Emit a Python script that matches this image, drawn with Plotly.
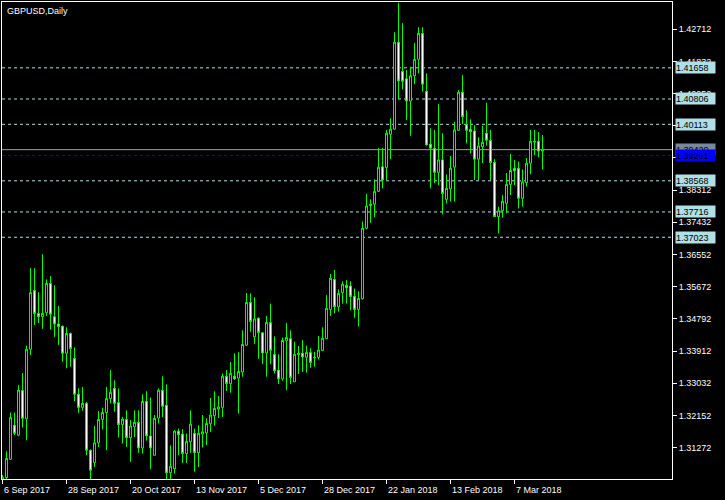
import plotly.graph_objects as go

# ---- data ----
opens = [1.3035,1.3045,1.3095,1.3188,1.3161,1.3283,1.3206,1.3396,1.3557,1.3494,
         1.3485,1.3496,1.3576,1.3485,1.3465,1.3459,1.3385,1.3439,1.3371,1.3273,
         1.3237,1.3248,1.3120,1.3086,1.3140,1.3204,1.3223,1.3261,1.3289,1.3250,
         1.3190,1.3204,1.3154,1.3184,1.3196,1.3126,1.3253,1.3159,1.3106,1.3208,
         1.3284,1.3243,1.3058,1.3069,1.3172,1.3164,1.3111,1.3143,1.3166,1.3113,
         1.3164,1.3167,1.3193,1.3214,1.3232,1.3237,1.3322,1.3302,1.3322,1.3317,
         1.3334,1.3407,1.3524,1.3430,1.3481,1.3441,1.3386,1.3469,1.3382,1.3339,
         1.3315,1.3419,1.3425,1.3307,1.3381,1.3385,1.3374,1.3387,1.3374,1.3374,
         1.3393,1.3425,1.3505,1.3587,1.3512,1.3551,1.3571,1.3569,1.3541,1.3505,
         1.3534,1.3727,1.3789,1.3793,1.3828,1.3895,1.3893,1.3984,1.3998,1.4236,
         1.4156,1.4136,1.4075,1.4144,1.4189,1.4260,1.4102,1.3957,1.3946,1.3880,
         1.3914,1.3806,1.3835,1.3894,1.3995,1.4099,1.4011,1.3997,1.3993,1.3916,
         1.3950,1.3987,1.3967,1.3907,1.3759,1.3775,1.3795,1.3847,1.3891,1.3891,
         1.3809,1.3852,1.3905,1.3965,1.3965,1.3938]
highs = [1.3052,1.3117,1.3223,1.3223,1.3298,1.3331,1.3406,1.3618,1.3618,1.3552,
         1.3656,1.3587,1.3596,1.3571,1.3514,1.3461,1.3456,1.3442,1.3401,1.3289,
         1.3293,1.3252,1.3122,1.3186,1.3227,1.3236,1.3293,1.3339,1.3311,1.3289,
         1.3211,1.3229,1.3202,1.3229,1.3229,1.3273,1.3281,1.3264,1.3216,1.3289,
         1.3322,1.3300,1.3133,1.3175,1.3179,1.3177,1.3166,1.3229,1.3179,1.3188,
         1.3216,1.3207,1.3263,1.3281,1.3268,1.3330,1.3339,1.3361,1.3385,1.3388,
         1.3448,1.3550,1.3549,1.3538,1.3483,1.3443,1.3487,1.3521,1.3431,1.3382,
         1.3428,1.3468,1.3448,1.3417,1.3405,1.3421,1.3406,1.3399,1.3389,1.3432,
         1.3456,1.3544,1.3602,1.3613,1.3560,1.3582,1.3585,1.3582,1.3562,1.3555,
         1.3745,1.3821,1.3806,1.3861,1.3946,1.3947,1.3996,1.4028,1.4263,1.4344,
         1.4288,1.4160,1.4169,1.4234,1.4277,1.4277,1.4151,1.4000,1.3996,1.4067,
         1.3987,1.3874,1.3925,1.4018,1.4105,1.4146,1.4050,1.4025,1.4009,1.3976,
         1.4007,1.4070,1.3996,1.3916,1.3786,1.3818,1.3878,1.3930,1.3914,1.3910,
         1.3888,1.3919,1.3996,1.3996,1.3990,1.3982]
lows = [1.3020,1.3040,1.3093,1.3161,1.3158,1.3182,1.3147,1.3380,1.3462,1.3468,
        1.3452,1.3487,1.3450,1.3430,1.3408,1.3362,1.3344,1.3348,1.3254,1.3222,
        1.3228,1.3106,1.3041,1.3074,1.3129,1.3177,1.3120,1.3248,1.3225,1.3155,
        1.3138,1.3129,1.3088,1.3156,1.3113,1.3111,1.3146,1.3068,1.3106,1.3193,
        1.3211,1.3036,1.3040,1.3056,1.3106,1.3085,1.3085,1.3113,1.3061,1.3074,
        1.3127,1.3134,1.3170,1.3187,1.3208,1.3211,1.3282,1.3277,1.3312,1.3220,
        1.3321,1.3405,1.3444,1.3410,1.3370,1.3356,1.3321,1.3355,1.3330,1.3301,
        1.3310,1.3284,1.3301,1.3307,1.3328,1.3334,1.3332,1.3345,1.3348,1.3368,
        1.3391,1.3424,1.3487,1.3494,1.3499,1.3521,1.3521,1.3503,1.3482,1.3458,
        1.3532,1.3724,1.3742,1.3757,1.3826,1.3836,1.3859,1.3916,1.3997,1.4080,
        1.4107,1.4023,1.3980,1.4121,1.4151,1.4101,1.3953,1.3836,1.3850,1.3845,
        1.3765,1.3795,1.3800,1.3800,1.3994,1.4012,1.3959,1.3932,1.3859,1.3859,
        1.3905,1.3953,1.3859,1.3758,1.3713,1.3756,1.3768,1.3818,1.3845,1.3781,
        1.3786,1.3841,1.3875,1.3927,1.3921,1.3888]
closes = [1.3046,1.3097,1.3209,1.3166,1.3284,1.3207,1.3396,1.3551,1.3494,1.3485,
          1.3494,1.3576,1.3492,1.3465,1.3458,1.3385,1.3439,1.3398,1.3273,1.3237,
          1.3248,1.3120,1.3065,1.3140,1.3204,1.3223,1.3261,1.3278,1.3248,1.3190,
          1.3205,1.3154,1.3186,1.3196,1.3126,1.3253,1.3159,1.3126,1.3207,1.3284,
          1.3240,1.3058,1.3076,1.3172,1.3162,1.3111,1.3144,1.3191,1.3113,1.3166,
          1.3170,1.3193,1.3216,1.3234,1.3238,1.3322,1.3302,1.3330,1.3315,1.3335,
          1.3409,1.3524,1.3472,1.3479,1.3442,1.3386,1.3469,1.3393,1.3337,1.3315,
          1.3420,1.3428,1.3319,1.3382,1.3385,1.3375,1.3387,1.3360,1.3373,1.3394,
          1.3426,1.3508,1.3590,1.3512,1.3549,1.3574,1.3564,1.3540,1.3505,1.3535,
          1.3727,1.3788,1.3793,1.3828,1.3894,1.3859,1.3987,1.3998,1.4236,1.4130,
          1.4129,1.4075,1.4144,1.4189,1.4260,1.4121,1.3955,1.3946,1.3880,1.3914,
          1.3822,1.3836,1.3891,1.3996,1.4099,1.4032,1.3995,1.3991,1.3916,1.3952,
          1.3962,1.3968,1.3907,1.3759,1.3775,1.3801,1.3847,1.3885,1.3884,1.3809,
          1.3854,1.3905,1.3965,1.3963,1.3938,1.3942]

date_tick_pos = [0, 16, 32, 48, 64, 80, 96, 112, 128]
date_tick_labels = ["6 Sep 2017", "28 Sep 2017", "20 Oct 2017", "13 Nov 2017",
                    "5 Dec 2017", "28 Dec 2017", "22 Jan 2018", "13 Feb 2018",
                    "7 Mar 2018"]
price_ticks = [1.42712, 1.41832, 1.40952, 1.40072, 1.39192, 1.38312, 1.37432,
               1.36552, 1.35672, 1.34792, 1.33912, 1.33032, 1.32152, 1.31272]
# labels fully covered by the price boxes in the reference are left blank
hidden_ticks = [1.40072, 1.39192]
level_prices = [1.41658, 1.40806, 1.40113, 1.38568, 1.37716, 1.37023]
bid_price = 1.39420
blue_price = 1.39261
title_text = "GBPUSD,Daily"

idx = list(range(len(opens)))
FONT = "Liberation Sans, Arial, sans-serif"
GREEN = "#00FF00"

fig = go.Figure()
fig.add_trace(go.Candlestick(
    x=idx, open=opens, high=highs, low=lows, close=closes,
    increasing=dict(line=dict(color=GREEN, width=1), fillcolor="#000000"),
    decreasing=dict(line=dict(color=GREEN, width=1), fillcolor="#FFFFFF"),
    whiskerwidth=0, hoverinfo="skip", showlegend=False))

shapes = []
for lv in level_prices:
    shapes.append(dict(type="line", xref="paper", x0=0, x1=1, yref="y", y0=lv, y1=lv,
                       line=dict(color="#B0E0E6", width=1, dash="3px,3px"), layer="below"))
shapes.append(dict(type="line", xref="paper", x0=0, x1=1, yref="y", y0=bid_price, y1=bid_price,
                   line=dict(color="#A0A0A0", width=1), layer="below"))
shapes.append(dict(type="line", xref="paper", x0=0, x1=1, yref="y", y0=blue_price, y1=blue_price,
                   line=dict(color="#0000FF", width=1, dash="3px,3px"), layer="below"))

annotations = []
for pos, lab in zip(date_tick_pos, date_tick_labels):
    annotations.append(dict(x=pos, xref="x", y=0, yref="paper", text=lab, showarrow=False,
                            xanchor="left", yanchor="top", xshift=-1, yshift=-4,
                            font=dict(family=FONT, size=9, color="white")))

def box(price, bg, fg):
    return dict(x=1, xref="paper", y=price, yref="y", text=f"{price:.5f}", showarrow=False,
                xanchor="left", yanchor="middle", xshift=3, width=39, height=11,
                align="left", borderpad=0, bgcolor=bg,
                font=dict(family=FONT, size=9, color=fg))

for lv in level_prices:
    annotations.append(box(lv, "#B0E0E6", "#000000"))
annotations.append(box(bid_price, "#778899", "#000000"))
annotations.append(box(blue_price, "#0000FF", "#000000"))
annotations.append(dict(x=0, xref="paper", y=1, yref="paper", text=title_text, showarrow=False,
                        xanchor="left", yanchor="top", xshift=3, yshift=-2,
                        font=dict(family=FONT, size=9, color="white")))

fig.update_layout(
    width=725, height=500,
    margin=dict(l=2, r=53, t=2, b=21, pad=0),
    paper_bgcolor="#000000", plot_bgcolor="#000000",
    boxgap=0.5, boxgroupgap=0,
    shapes=shapes, annotations=annotations,
    xaxis=dict(range=[-0.125, 167.375], rangeslider=dict(visible=False),
               showgrid=False, zeroline=False, showline=True, mirror=True,
               linecolor="white", linewidth=1,
               tickmode="array", tickvals=date_tick_pos, ticktext=[""] * len(date_tick_pos),
               ticks="outside", ticklen=4, tickcolor="white", tickwidth=1),
    yaxis=dict(range=[1.30411, 1.43459], side="right",
               showgrid=False, zeroline=False, showline=True, mirror=True,
               linecolor="white", linewidth=1,
               tickmode="array", tickvals=price_ticks,
               ticktext=["" if p in hidden_ticks else f"{p:.5f}" for p in price_ticks],
               ticks="outside", ticklen=4, tickcolor="white", tickwidth=1,
               tickfont=dict(family=FONT, size=9, color="white")),
)

fig.write_html("out.html", config={"displayModeBar": False},
               post_script="document.body.style.margin='0';")
